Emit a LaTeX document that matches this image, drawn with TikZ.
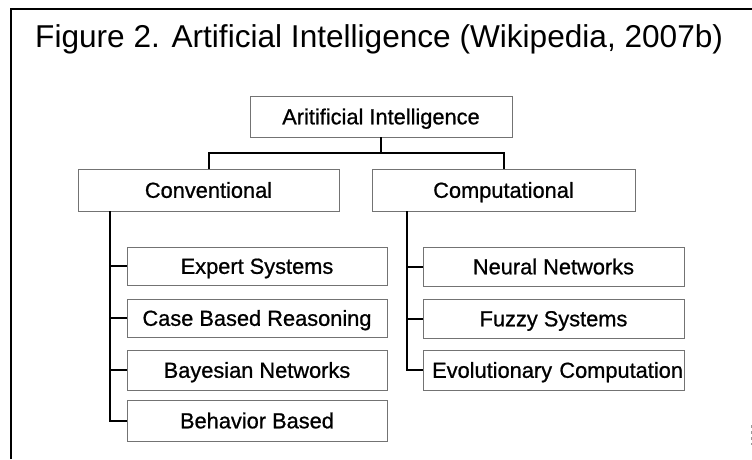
\documentclass[tikz,border=0pt]{standalone}
\usepackage{fontspec}
\setmainfont{Liberation Sans}
\newfontfamily\labelfont[FakeBold=0.8]{Liberation Sans}
\begin{document}
\begin{tikzpicture}[x=1pt,y=-1pt,
  box/.style={draw=black!55,line width=0.8pt,fill=white,inner sep=0pt,
    text height=15.6pt,text depth=0pt,
    font=\labelfont\fontsize{21.8}{24}\selectfont},
  wire/.style={line width=2pt,black}]
\useasboundingbox (0,0) rectangle (752,459);
% page frame
\draw[line width=2pt] (10.5,459) -- (10.5,8.5) -- (752,8.5);
\draw[black!40,line width=1pt,dashed] (751,425) -- (751,445);
% title
\node[anchor=base west,inner sep=0pt,font=\fontsize{31.6}{36}\selectfont]
  (title) at (35,47) {Figure 2. Artificial Intelligence (Wikipedia, 2007b)};
% boxes
\node[box,minimum width=262pt,minimum height=41pt] (ai) at (381,116.5) {Aritificial Intelligence};
\node[box,minimum width=261pt,minimum height=42pt] (conv) at (208.5,190) {Conventional};
\node[box,minimum width=263pt,minimum height=42pt] (comp) at (503.5,190) {Computational};
\node[box,minimum width=260pt,minimum height=38pt] (es) at (257,266) {Expert Systems};
\node[box,minimum width=260pt,minimum height=38pt] (cbr) at (257,318) {Case Based Reasoning};
\node[box,minimum width=260pt,minimum height=40pt] (bn) at (257,370) {Bayesian Networks};
\node[box,minimum width=260pt,minimum height=41pt] (bb) at (257,420.5) {Behavior Based};
\node[box,minimum width=261pt,minimum height=39pt] (nn) at (553.5,266.5) {Neural Networks};
\node[box,minimum width=261pt,minimum height=39pt] (fs) at (553.5,318.5) {Fuzzy Systems};
\node[box,minimum width=261pt,minimum height=40pt,text width=259pt,align=right] (ec) at (553.5,370) {Evolutionary Computation};
% connectors
\coordinate (j) at (381,153);
\coordinate (lv) at (110,0);
\coordinate (rv) at (407,0);
\draw[wire] (ai.south) -- (j);
\draw[wire] (j) -- (j -| conv.north) -- (conv.north);
\draw[wire] (j) -- (j -| comp.north) -- (comp.north);
\draw[wire] (conv.south -| lv) -- (bb.west -| lv) -- (bb.west);
\draw[wire] (es.west -| lv) -- (es.west);
\draw[wire] (cbr.west -| lv) -- (cbr.west);
\draw[wire] (bn.west -| lv) -- (bn.west);
\draw[wire] (comp.south -| rv) -- (ec.west -| rv) -- (ec.west);
\draw[wire] (nn.west -| rv) -- (nn.west);
\draw[wire] (fs.west -| rv) -- (fs.west);
\end{tikzpicture}
\end{document}
